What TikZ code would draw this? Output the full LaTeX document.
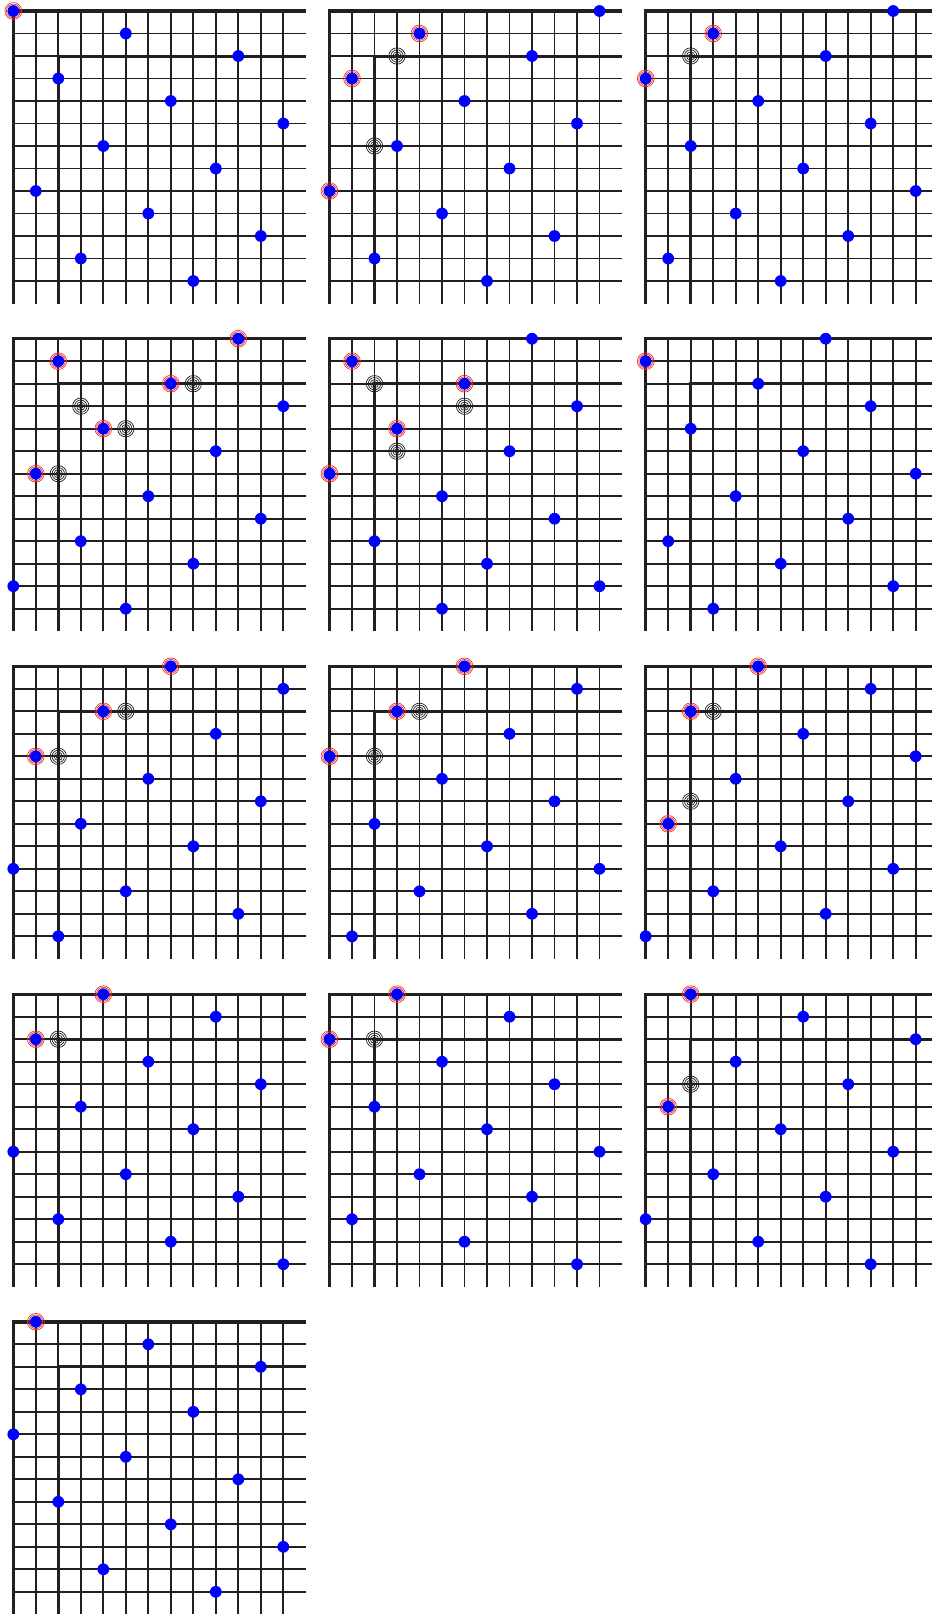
\documentclass[tikz,border=0pt]{standalone}
\definecolor{gridc}{HTML}{231F20}
\definecolor{dotc}{HTML}{0000FF}
\definecolor{redc}{HTML}{EE2A24}
\tikzset{
  thin grid/.style={draw=gridc, line width=0.95pt},
  border line/.style={draw=gridc, line width=1.7pt, line join=miter},
  inner line/.style={draw=gridc, line width=1.5pt, line join=miter},
  blue dot/.style={fill=dotc},
  red ring/.style={draw=redc, line width=0.32pt},
  black ring/.style={draw=gridc, line width=0.35pt},
}
\newcommand{\panelgrid}[1]{%
  \foreach \i in {1,...,12}{
    \draw[thin grid] (22.5*\i,0) -- (22.5*\i,292.5);
    \draw[thin grid] (0,22.5*\i) -- (292.5,22.5*\i);
  }
  \draw[border line] (292.5,0) -- (0,0) -- (0,292.5);
  \draw[inner line] (292.5,45) -- (45,45) -- (45,292.5);
  \foreach \c [count=\r from 0] in {#1}{
    \fill[blue dot] (22.5*\c,22.5*\r) circle[radius=2.95pt];
  }%
}
\newcommand{\redat}[2]{%
  \draw[red ring] (22.5*#1,22.5*#2) circle[radius=3.45pt];
  \draw[red ring] (22.5*#1,22.5*#2) circle[radius=4.2pt];%
}
\newcommand{\ringat}[2]{%
  \foreach \rr in {1.1,2.1,3.1,4.1}{
    \draw[black ring] (22.5*#1,22.5*#2) circle[radius=\rr pt];
  }%
}
\begin{document}
\begin{tikzpicture}[x=0.5pt,y=-0.5pt]
\useasboundingbox (0,0) rectangle (932,1619);
\clip (0,0) rectangle (932,1619);
\fill[white] (0,0) rectangle (932,1619);
% row 1
\begin{scope}[shift={(13.3,11)}]
  \panelgrid{0,5,10,2,7,12,4,9,1,6,11,3,8}
  \redat{0}{0}
\end{scope}
\begin{scope}[shift={(329.5,11)}]
  \panelgrid{12,4,9,1,6,11,3,8,0,5,10,2,7}
  \redat{4}{1}\redat{1}{3}\redat{0}{8}
  \ringat{3}{2}\ringat{2}{6}
\end{scope}
\begin{scope}[shift={(645.7,11)}]
  \panelgrid{11,3,8,0,5,10,2,7,12,4,9,1,6}
  \redat{3}{1}\redat{0}{3}
  \ringat{2}{2}
\end{scope}
% row 2
\begin{scope}[shift={(13.3,338.7)}]
  \panelgrid{10,2,7,12,4,9,1,6,11,3,8,0,5}
  \redat{10}{0}\redat{2}{1}\redat{7}{2}\redat{4}{4}\redat{1}{6}
  \ringat{8}{2}\ringat{3}{3}\ringat{5}{4}\ringat{2}{6}
\end{scope}
\begin{scope}[shift={(329.5,338.7)}]
  \panelgrid{9,1,6,11,3,8,0,5,10,2,7,12,5}
  \redat{1}{1}\redat{6}{2}\redat{3}{4}\redat{0}{6}
  \ringat{2}{2}\ringat{6}{3}\ringat{3}{5}
\end{scope}
\begin{scope}[shift={(645.7,338.7)}]
  \panelgrid{8,0,5,10,2,7,12,4,9,1,6,11,3}
  \redat{0}{1}
\end{scope}
% row 3
\begin{scope}[shift={(13.3,666.3)}]
  \panelgrid{7,12,4,9,1,6,11,3,8,0,5,10,2}
  \redat{7}{0}\redat{4}{2}\redat{1}{4}
  \ringat{5}{2}\ringat{2}{4}
\end{scope}
\begin{scope}[shift={(329.5,666.3)}]
  \panelgrid{6,11,3,8,0,5,10,2,7,12,4,9,1}
  \redat{6}{0}\redat{3}{2}\redat{0}{4}
  \ringat{4}{2}\ringat{2}{4}
\end{scope}
\begin{scope}[shift={(645.7,666.3)}]
  \panelgrid{5,10,2,7,12,4,9,1,6,11,3,8,0}
  \redat{5}{0}\redat{2}{2}\redat{1}{7}
  \ringat{3}{2}\ringat{2}{6}
\end{scope}
% row 4
\begin{scope}[shift={(13.3,994.2)}]
  \panelgrid{4,9,1,6,11,3,8,0,5,10,2,7,12}
  \redat{4}{0}\redat{1}{2}
  \ringat{2}{2}
\end{scope}
\begin{scope}[shift={(329.5,994.2)}]
  \panelgrid{3,8,0,5,10,2,7,12,4,9,1,6,11}
  \redat{3}{0}\redat{0}{2}
  \ringat{2}{2}
\end{scope}
\begin{scope}[shift={(645.7,994.2)}]
  \panelgrid{2,7,12,4,9,1,6,11,3,8,0,5,10}
  \redat{2}{0}\redat{1}{5}
  \ringat{2}{4}
\end{scope}
% row 5
\begin{scope}[shift={(13.3,1321.8)}]
  \panelgrid{1,6,11,3,8,0,5,10,2,7,12,4,9}
  \redat{1}{0}
\end{scope}
\end{tikzpicture}
\end{document}
